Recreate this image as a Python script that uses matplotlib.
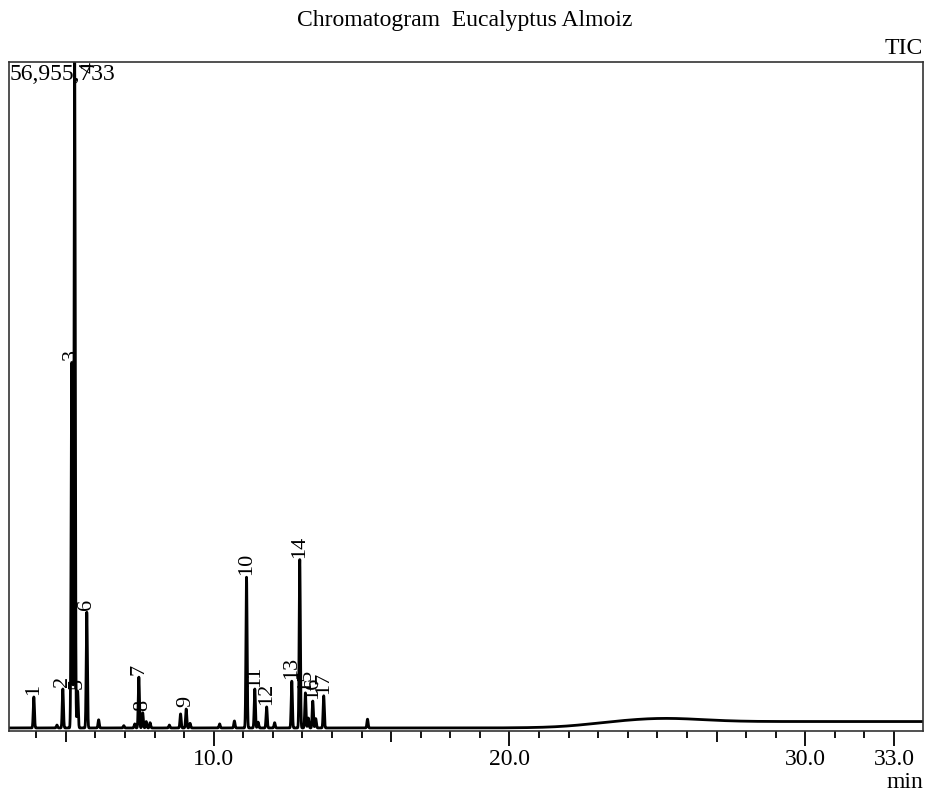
import numpy as np
import matplotlib
matplotlib.use("Agg")
import matplotlib.pyplot as plt

# peaks (retention time in min, height in counts)
peak_labels = ["1", "2", "3", "4", "5", "6", "7", "8", "9", "10",
               "11", "12", "13", "14", "15", "16", "17"]
peak_rt = [3.92, 4.90, 5.20, 5.30, 5.40, 5.71, 7.47, 7.60, 9.07, 11.11,
           11.39, 11.79, 12.64, 12.91, 13.10, 13.35, 13.72]
peak_height = [2.65e6, 3.33e6, 31.3e6, 56955733, 3.15e6, 9.9e6, 4.35e6, 1.30e6,
               1.62e6, 12.9e6, 3.33e6, 1.80e6, 4.0e6, 14.4e6, 3.0e6, 2.3e6, 2.75e6]

# small unlabelled peaks
minor_rt = [4.70, 6.11, 6.96, 7.33, 7.72, 7.85, 8.50, 8.88, 9.20, 10.20,
            10.70, 11.50, 12.06, 13.20, 13.45, 15.20]
minor_height = [0.25e6, 0.70e6, 0.20e6, 0.35e6, 0.55e6, 0.45e6, 0.25e6, 1.20e6,
                0.40e6, 0.35e6, 0.60e6, 0.50e6, 0.45e6, 0.85e6, 0.80e6, 0.75e6]

# baseline drift (late hump of the column bleed)
drift_level = 0.55e6
drift_mid = 22.6
hump_rt = 25.2
hump_height = 0.28e6

full_scale = 56955733
xticks = [10.0, 20.0, 30.0, 33.0]

t = np.linspace(3.0, 34.0, 14000)
sig = 0.02
y = drift_level / (1 + np.exp(-(t - drift_mid) / 0.7))
y += hump_height * np.exp(-0.5 * ((t - hump_rt) / 1.3) ** 2)
for rt, h in zip(peak_rt + minor_rt, peak_height + minor_height):
    y += h * np.exp(-0.5 * ((t - rt) / sig) ** 2)

plt.rcParams['font.family'] = ['Liberation Serif', 'DejaVu Serif']

fig = plt.figure(figsize=(9.29, 7.99), dpi=100)
ax = fig.add_axes([9 / 929, 68 / 799, 914 / 929, 669 / 799])
ax.plot(t, y, color="black", lw=2.0)
ax.set_xlim(3.08, 33.98)
ax.set_ylim(-0.26e6, full_scale)

for lab, rt, h in zip(peak_labels, peak_rt, peak_height):
    if h >= full_scale:
        ax.text(rt + 0.18, full_scale, lab, rotation=90, ha="left", va="top",
                fontsize=16)
    else:
        ax.text(rt, h + 0.15e6, lab, rotation=90, ha="center", va="bottom",
                fontsize=16)

ax.text(0.001, 0.997, f"{full_scale:,}", transform=ax.transAxes,
        ha="left", va="top", fontsize=17)
ax.text(1.0, 1.004, "TIC", transform=ax.transAxes, ha="right", va="bottom",
        fontsize=17)
ax.text(1.0, -0.062, "min", transform=ax.transAxes, ha="right", va="top",
        fontsize=17)
fig.suptitle("Chromatogram  Eucalyptus Almoiz", y=0.988, fontsize=17)

ax.set_xticks(xticks)
ax.set_xticklabels([f"{v:.1f}" for v in xticks], fontsize=17)
ax.set_xticks(range(4, 34), minor=True)
ax.set_yticks([])
ax.tick_params(axis="x", which="major", length=11, width=1.3, direction="out", pad=2)
ax.tick_params(axis="x", which="minor", length=5, width=1.3, direction="out")
for tk, v in zip(ax.xaxis.get_minor_ticks(), range(4, 34)):
    if v in (5, 15, 25):
        tk.tick1line.set_markersize(8)
for s in ax.spines.values():
    s.set_linewidth(1.2)
    s.set_color("#333333")

fig.savefig("out.png", dpi=100)
